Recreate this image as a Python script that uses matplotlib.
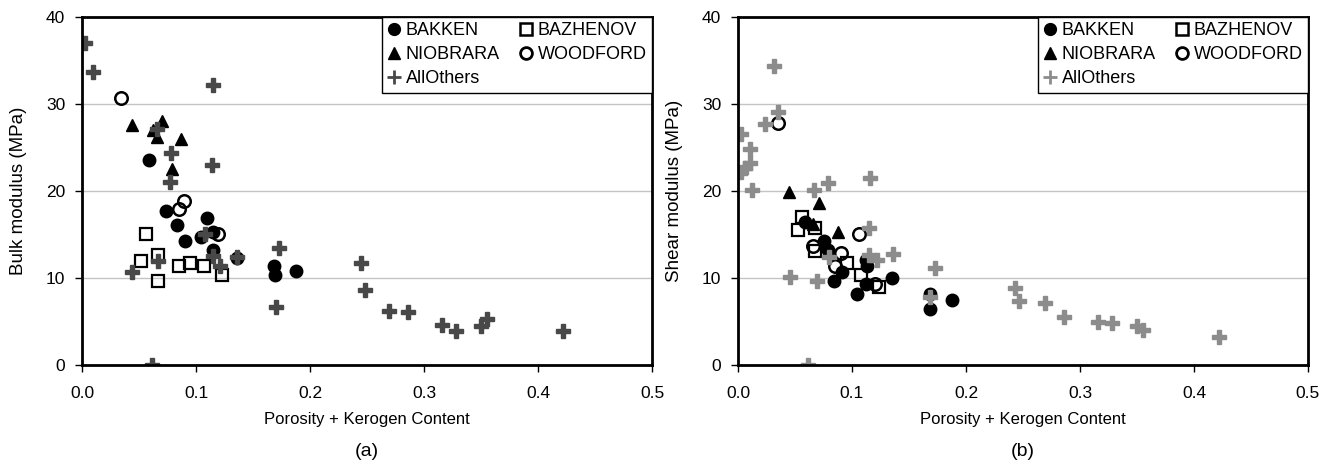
import matplotlib.pyplot as plt
from matplotlib.lines import Line2D

plt.rcParams['font.family'] = ['Liberation Sans', 'DejaVu Sans']

# (a) bulk modulus vs porosity + kerogen
bulk_bakken_x = [0.0588, 0.0737, 0.0836, 0.110, 0.104, 0.1146, 0.0904, 0.1146, 0.1357, 0.168, 0.169, 0.1877]
bulk_bakken_y = [23.6, 17.7, 16.1, 16.9, 14.7, 15.3, 14.2, 13.2, 12.3, 11.4, 10.3, 10.8]
bulk_bazhenov_x = [0.056, 0.0664, 0.0518, 0.067, 0.0854, 0.0947, 0.107, 0.1225]
bulk_bazhenov_y = [15.1, 12.6, 11.95, 9.6, 11.4, 11.75, 11.4, 10.4]
bulk_niobrara_x = [0.0436, 0.0705, 0.0626, 0.066, 0.0868, 0.0787]
bulk_niobrara_y = [27.6, 28.0, 27.0, 26.2, 26.0, 22.5]
bulk_woodford_x = [0.034, 0.0898, 0.0854, 0.1196]
bulk_woodford_y = [30.7, 18.8, 17.9, 15.1]
bulk_others_x = [0.003, 0.010, 0.115, 0.066, 0.078, 0.114, 0.077, 0.108, 0.1146, 0.1357,
                 0.121, 0.067, 0.0436, 0.173, 0.170, 0.2444, 0.248, 0.061, 0.2693, 0.2863,
                 0.3155, 0.328, 0.350, 0.3555, 0.4217]
bulk_others_y = [37.0, 33.7, 32.2, 27.1, 24.4, 23.0, 21.0, 15.1, 12.5, 12.45,
                 11.4, 11.95, 10.7, 13.4, 6.7, 11.75, 8.6, 0.0, 6.25, 6.05,
                 4.6, 3.9, 4.5, 5.3, 3.9]

# (b) shear modulus vs porosity + kerogen
shear_bakken_x = [0.059, 0.0757, 0.0786, 0.0916, 0.0843, 0.112, 0.113, 0.112, 0.1046, 0.135, 0.168, 0.168, 0.188]
shear_bakken_y = [16.4, 14.2, 13.2, 10.7, 9.7, 12.1, 11.4, 9.3, 8.15, 9.95, 8.15, 6.4, 7.47]
shear_bazhenov_x = [0.0563, 0.0524, 0.0678, 0.0678, 0.0959, 0.1075, 0.124]
shear_bazhenov_y = [17.0, 15.5, 15.8, 13.1, 11.75, 10.35, 9.0]
shear_niobrara_x = [0.0443, 0.0707, 0.0655, 0.088]
shear_niobrara_y = [19.9, 18.65, 16.2, 15.3]
shear_woodford_x = [0.035, 0.106, 0.0655, 0.090, 0.085, 0.12]
shear_woodford_y = [27.85, 15.06, 13.7, 12.9, 11.4, 9.3]
shear_others_x = [0.0316, 0.035, 0.0235, 0.003, 0.0104, 0.0104, 0.006, 0.003, 0.012, 0.067,
                  0.0786, 0.1157, 0.1148, 0.0794, 0.1148, 0.1215, 0.136, 0.0452, 0.0693, 0.1728,
                  0.168, 0.243, 0.2467, 0.0617, 0.2693, 0.2863, 0.3155, 0.328, 0.350, 0.3555, 0.4217]
shear_others_y = [34.4, 29.1, 27.7, 26.55, 24.8, 23.2, 22.6, 22.2, 20.1, 20.1,
                  20.95, 21.5, 15.8, 12.4, 12.6, 12.1, 12.75, 10.1, 9.7, 11.1,
                  7.8, 8.9, 7.3, 0.0, 7.17, 5.55, 4.98, 4.8, 4.5, 4.0, 3.26]

x_ticks = [0.0, 0.1, 0.2, 0.3, 0.4, 0.5]
y_ticks = [0, 10, 20, 30, 40]


def draw_panel(ax, series, plus_color, ylabel, tag):
    bk, bz, nb, wf, ot = series
    ax.plot(bk[0], bk[1], 'o', ls='none', color='black', ms=9)
    ax.plot(bz[0], bz[1], 's', ls='none', mfc='none', mec='black', mew=1.6, ms=9)
    ax.plot(nb[0], nb[1], '^', ls='none', color='black', ms=9)
    ax.plot(wf[0], wf[1], 'o', ls='none', mfc='none', mec='black', mew=1.8, ms=9)
    ax.plot(ot[0], ot[1], 'P', ls='none', color=plus_color, mec=plus_color, ms=9.5)

    ax.set_xlim(0, 0.5)
    ax.set_ylim(0, 40)
    ax.set_xticks(x_ticks)
    ax.set_xticklabels(['%.1f' % t for t in x_ticks])
    ax.set_yticks(y_ticks)
    ax.yaxis.grid(True, color='#c4c4c4', lw=1)
    ax.set_axisbelow(True)
    for s in ax.spines.values():
        s.set_linewidth(2)
    ax.tick_params(direction='out', length=5, width=1, labelsize=12.5)
    ax.tick_params(axis='y', pad=7)
    ax.tick_params(axis='x', pad=10)
    ax.set_ylabel(ylabel, fontsize=13.5)
    ax.yaxis.set_label_coords(-0.097, 0.5)
    ax.set_xlabel('Porosity + Kerogen Content', fontsize=12)
    ax.xaxis.set_label_coords(0.5, -0.135)

    handles = [
        Line2D([], [], marker='o', ls='none', color='black', ms=8.5),
        Line2D([], [], marker='^', ls='none', color='black', ms=8.5),
        Line2D([], [], marker='+', ls='none', color=plus_color, mew=2, ms=10),
        Line2D([], [], marker='s', ls='none', mfc='none', mec='black', mew=1.8, ms=8.5),
        Line2D([], [], marker='o', ls='none', mfc='none', mec='black', mew=2, ms=8.5),
    ]
    labels = ['BAKKEN', 'NIOBRARA', 'AllOthers', 'BAZHENOV', 'WOODFORD']
    leg = ax.legend(handles, labels, ncol=2, loc='upper right', borderaxespad=0,
                    fontsize=13, handlelength=0.75, handletextpad=0.25,
                    columnspacing=1.1, labelspacing=0.38, borderpad=0.3,
                    fancybox=False, framealpha=1, edgecolor='black')
    leg.get_frame().set_linewidth(1)

    pos = ax.get_position()
    ax.figure.text(pos.x0 + pos.width / 2, 0.034, tag, ha='center', va='center', fontsize=14)


fig = plt.figure(figsize=(13.19, 4.67), dpi=100)
ax1 = fig.add_axes([82 / 1319, 102 / 467, 570 / 1319, 348 / 467])
ax2 = fig.add_axes([738 / 1319, 102 / 467, 570 / 1319, 348 / 467])

draw_panel(ax1, [(bulk_bakken_x, bulk_bakken_y), (bulk_bazhenov_x, bulk_bazhenov_y),
                 (bulk_niobrara_x, bulk_niobrara_y), (bulk_woodford_x, bulk_woodford_y),
                 (bulk_others_x, bulk_others_y)], '#484848', 'Bulk modulus (MPa)', '(a)')
draw_panel(ax2, [(shear_bakken_x, shear_bakken_y), (shear_bazhenov_x, shear_bazhenov_y),
                 (shear_niobrara_x, shear_niobrara_y), (shear_woodford_x, shear_woodford_y),
                 (shear_others_x, shear_others_y)], '#8c8c8c', 'Shear modulus (MPa)', '(b)')

fig.savefig('out.png', dpi=100)
